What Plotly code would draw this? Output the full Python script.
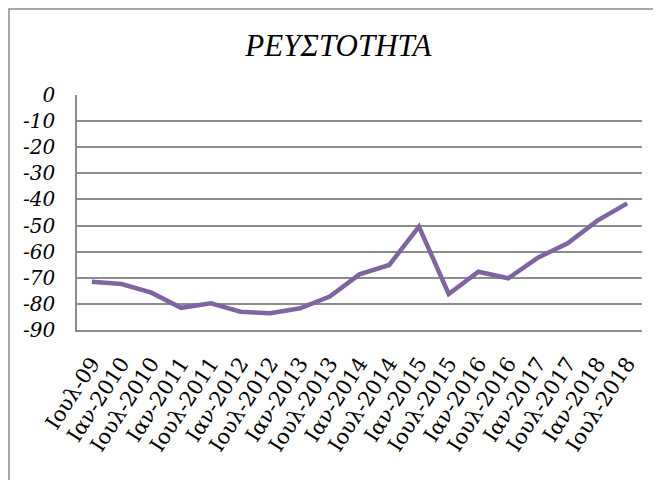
import plotly.graph_objects as go

categories = ["Ιουλ-09", "Ιαν-2010", "Ιουλ-2010", "Ιαν-2011", "Ιουλ-2011", "Ιαν-2012",
              "Ιουλ-2012", "Ιαν-2013", "Ιουλ-2013", "Ιαν-2014", "Ιουλ-2014", "Ιαν-2015",
              "Ιουλ-2015", "Ιαν-2016", "Ιουλ-2016", "Ιαν-2017", "Ιουλ-2017", "Ιαν-2018",
              "Ιουλ-2018"]
values = [-71.5, -72.4, -75.7, -81.5, -79.8, -83.0, -83.6, -81.7, -77.2, -68.7,
          -65.1, -50.4, -76.2, -67.7, -70.2, -62.3, -56.8, -48.1, -41.5]
y_ticks = [0, -10, -20, -30, -40, -50, -60, -70, -80, -90]

fig = go.Figure()
fig.add_trace(go.Scatter(
    x=categories, y=values, mode="lines",
    line=dict(color="#8064A2", width=4.5),
    showlegend=False,
))

grid = "#8c8c8c"
tick_family = "'DejaVu Serif', 'Noto Serif', serif"
# page body adds an 8px offset; figure sized so it ends at the window edge
fig.update_layout(
    width=653, height=472,
    margin=dict(l=69, r=19, t=87, b=150, autoexpand=False),
    paper_bgcolor="white", plot_bgcolor="white",
    title=dict(text="ΡΕΥΣΤΟΤΗΤΑ", x=0.506, xref="container", xanchor="center",
               y=0.921, yref="container", yanchor="middle",
               font=dict(family="Liberation Serif", size=31, color="black", style="italic")),
    xaxis=dict(
        type="category", tickangle=-57, showgrid=False, range=[-0.5, 18.5],
        showline=True, linecolor=grid, linewidth=1.5,
        tickfont=dict(family=tick_family, size=21, color="black"),
        ticks="", ticklabelstandoff=11, automargin=False,
    ),
    yaxis=dict(
        range=[-90, 0], tickvals=y_ticks, ticktext=[str(v) for v in y_ticks],
        showgrid=True, gridcolor=grid, gridwidth=1.5,
        showline=True, linecolor=grid, linewidth=1.5,
        zeroline=False, ticks="", ticklabelstandoff=16, automargin=False,
        tickfont=dict(family=tick_family, size=20, color="black", style="italic"),
    ),
    shapes=[dict(type="rect", xref="paper", yref="paper",
                 x0=-0.1204, x1=1.1, y0=-0.8, y1=1.366,
                 line=dict(color="#8c8c8c", width=1.5), fillcolor="rgba(0,0,0,0)",
                 layer="below")],
)

fig.write_html("out.html")
